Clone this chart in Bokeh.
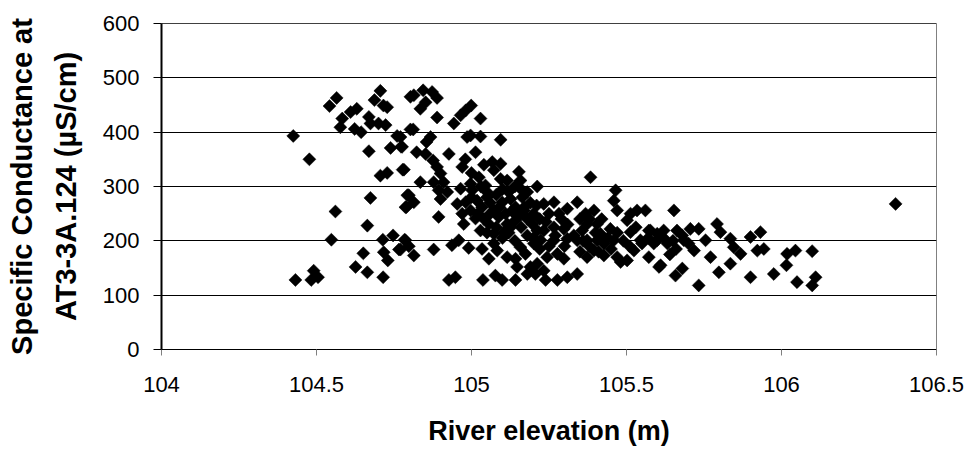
import numpy as np
from bokeh.plotting import figure
from bokeh.models import Range1d, FixedTicker, Span, LinearAxis
from bokeh.embed import file_html
from bokeh.resources import INLINE

# River elevation (m) and specific conductance (uS/cm) at AT3-3A.124
elevation = [
    104.425, 104.477, 104.565, 104.542, 104.583, 104.610, 104.630, 104.577, 104.623, 104.644,
    104.669, 104.674, 104.706, 104.687, 104.716, 104.728, 104.700, 104.723, 104.760, 104.669,
    104.739, 104.773, 104.706, 104.728, 104.778, 104.674, 104.561, 104.793, 104.790, 104.664,
    104.548, 104.714, 104.747, 104.784, 104.651, 104.717, 104.766, 104.730, 104.626, 104.664,
    104.432, 104.483, 104.491, 104.505, 104.715, 104.798, 104.803, 104.803,
    104.814, 104.844, 104.873, 104.889, 104.835, 104.852, 104.889, 104.812, 104.771, 104.776,
    104.868, 104.855, 104.823, 104.852, 104.782, 104.876, 104.889, 104.900, 104.835, 104.878,
    104.910, 104.894, 104.922, 104.798, 104.814, 104.787, 104.900, 104.927, 104.970, 105.013,
    104.986, 105.029, 104.997, 105.094, 104.943, 104.965, 104.981, 104.999, 105.029, 104.894,
    104.965, 104.997, 105.024, 105.002, 105.045, 105.067, 105.094, 105.072, 105.094, 105.115,
    105.153, 105.158, 105.212, 105.384, 104.954, 104.981, 105.018, 105.050, 104.970, 104.997,
    105.034, 105.072, 105.099, 105.126, 105.142, 105.164, 105.180, 105.169, 104.975, 105.013,
    105.056, 105.088, 105.115, 105.142, 105.029, 105.072, 105.104, 105.126, 105.196, 105.212,
    105.233, 105.266, 105.250, 105.282, 105.309, 105.341, 105.368, 105.395, 105.465, 105.459,
    105.470, 105.513, 105.534, 105.561, 105.502, 105.373, 105.405, 105.357, 105.416, 105.448,
    105.459, 105.513, 105.545, 105.572, 105.599, 105.588, 105.233, 105.266, 105.298, 105.223,
    105.201, 105.266, 105.309, 105.341, 105.373, 105.405, 105.427, 105.395, 105.373, 105.427,
    105.470, 105.502, 105.481, 105.524, 105.572, 105.605, 104.787, 104.771, 104.814, 104.878,
    104.937, 104.959, 104.991, 105.034, 105.056, 105.083, 105.072, 105.115, 105.142, 105.174,
    105.158, 105.190, 105.212, 105.244, 105.277, 105.298, 105.233, 104.927, 104.948, 105.037,
    105.077, 105.099, 105.142, 105.180, 105.206, 105.239, 105.277, 105.309, 105.341, 105.147,
    105.653, 105.577, 105.620, 105.663, 105.706, 105.733, 105.792, 105.803, 105.835, 105.900,
    105.932, 105.599, 105.632, 105.685, 105.718, 105.755, 105.771, 105.846, 105.868, 105.922,
    105.943, 106.018, 106.045, 106.099, 105.610, 105.658, 105.680, 105.733, 105.798, 105.835,
    105.900, 105.975, 106.016, 106.050, 106.099, 106.110, 106.368,
    105.000, 105.030, 105.050, 105.060, 105.080, 105.100, 105.120, 105.140, 105.160, 105.020,
    105.040, 105.060, 105.090, 105.110, 105.130, 105.150, 105.170, 105.190, 105.210, 105.050,
    105.080, 105.100, 105.120, 105.140, 105.160, 105.180, 105.200, 105.220, 105.240, 105.180,
    105.200, 105.220, 105.250, 105.270, 105.290, 105.310, 105.300, 105.330, 105.350, 105.360,
    105.380, 105.400, 105.420, 105.440, 105.380, 105.350, 105.410, 105.450, 105.470, 105.490,
    105.510, 105.530, 105.550, 105.570, 105.620, 105.650, 105.660, 105.640, 105.680, 105.700,
    105.000, 105.040, 104.980,
]
conductance = [
    393, 350, 463, 448, 425, 437, 443, 409, 406, 400,
    428, 416, 476, 459, 449, 446, 416, 413, 393, 365,
    371, 373, 320, 325, 331, 279, 254, 284, 262, 228,
    202, 202, 210, 202, 177, 179, 184, 164, 152, 142,
    128, 128, 145, 133, 133, 190, 465, 405,
    468, 477, 474, 463, 443, 455, 427, 405, 391, 373,
    391, 382, 363, 360, 331, 348, 336, 324, 308, 308,
    308, 293, 290, 284, 271, 262, 277, 360, 336, 363,
    391, 392, 394, 386, 416, 431, 440, 449, 425, 244,
    296, 305, 317, 293, 302, 345, 342, 330, 314, 311,
    327, 311, 300, 317, 268, 271, 274, 280, 250, 256,
    262, 256, 271, 277, 262, 280, 290, 256, 231, 241,
    231, 244, 231, 238, 219, 213, 216, 225, 231, 219,
    268, 271, 250, 250, 259, 271, 250, 256, 293, 274,
    256, 250, 256, 256, 238, 231, 231, 219, 213, 222,
    201, 216, 201, 219, 213, 195, 219, 225, 222, 201,
    195, 201, 204, 201, 201, 201, 195, 182, 170, 173,
    170, 164, 161, 182, 170, 152, 201, 184, 173, 184,
    192, 201, 187, 185, 167, 182, 195, 170, 167, 176,
    188, 152, 158, 170, 176, 167, 145, 128, 133, 128,
    136, 128, 128, 139, 139, 128, 128, 133, 139, 152,
    256, 219, 219, 219, 222, 222, 231, 216, 204, 207,
    216, 201, 195, 201, 182, 201, 170, 188, 176, 182,
    185, 176, 182, 181, 155, 136, 149, 118, 142, 158,
    133, 139, 155, 124, 118, 133, 268,
    280, 300, 290, 270, 285, 295, 290, 300, 295, 250,
    240, 250, 262, 250, 255, 245, 262, 270, 265, 215,
    225, 205, 215, 200, 225, 240, 250, 240, 235, 210,
    205, 185, 190, 210, 240, 230, 190, 210, 240, 200,
    190, 215, 240, 205, 240, 180, 180, 185, 215, 200,
    190, 225, 195, 205, 205, 200, 185, 175, 210, 195,
    325, 340, 350,
]

x_ticks = [104, 104.5, 105, 105.5, 106, 106.5]
y_ticks = [0, 100, 200, 300, 400, 500, 600]

FONT = "Liberation Sans"

p = figure(
    width=967, height=454,
    output_backend="svg", toolbar_location=None,
    x_range=Range1d(104, 106.5), y_range=Range1d(0, 600),
    min_border_left=161, min_border_right=31,
    min_border_top=23, min_border_bottom=105,
)
p.background_fill_color = "white"
p.border_fill_color = "white"
p.outline_line_color = "#808080"

p.scatter(elevation, conductance, marker="square", angle=np.pi / 4,
          size=9.2, fill_color="black", line_color="black", line_width=0.5)

# horizontal gridlines only
p.xgrid.grid_line_color = None
p.ygrid.ticker = FixedTicker(ticks=y_ticks)
p.ygrid.grid_line_color = "black"
p.ygrid.grid_line_width = 1
p.add_layout(Span(location=600, dimension="width", line_color="black", line_width=1))

p.xaxis.ticker = FixedTicker(ticks=x_ticks)
p.yaxis.ticker = FixedTicker(ticks=y_ticks)
p.xaxis.minor_tick_line_color = None
p.yaxis.minor_tick_line_color = None
p.xaxis.major_tick_out = 6
p.xaxis.major_tick_in = 0
p.yaxis.major_tick_out = 8
p.yaxis.major_tick_in = 0
p.xaxis.major_tick_line_color = "#808080"
p.yaxis.major_tick_line_color = "black"
p.xaxis.axis_line_color = "black"
p.yaxis.axis_line_color = "black"
p.yaxis.axis_line_width = 2

for ax in (p.xaxis, p.yaxis):
    ax.major_label_text_font = FONT
    ax.major_label_text_font_size = "22px"
    ax.major_label_text_color = "black"
    ax.axis_label_text_font = FONT
    ax.axis_label_text_font_style = "bold"
    ax.axis_label_text_color = "black"

p.xaxis.axis_label_text_font_size = "27px"
p.yaxis.axis_label_text_font_size = "29px"

p.xaxis.major_label_standoff = 21
p.yaxis.major_label_standoff = 14
p.xaxis.axis_label = "River elevation (m)"
p.xaxis.axis_label_standoff = 21
p.yaxis.axis_label = "AT3-3A.124 (µS/cm)"
p.yaxis.axis_label_standoff = 18

# first line of the y title sits on its own bare axis further left
title_axis = LinearAxis(
    ticker=FixedTicker(ticks=[]),
    axis_label="Specific Conductance at",
    axis_label_text_font=FONT,
    axis_label_text_font_style="bold",
    axis_label_text_font_size="29px",
    axis_label_text_color="black",
    axis_label_standoff=9,
    axis_line_color=None,
    major_tick_line_color=None,
    minor_tick_line_color=None,
    major_tick_out=0,
    major_label_standoff=0,
)
p.add_layout(title_axis, "left")

open("out.html", "w").write(file_html(p, INLINE))
